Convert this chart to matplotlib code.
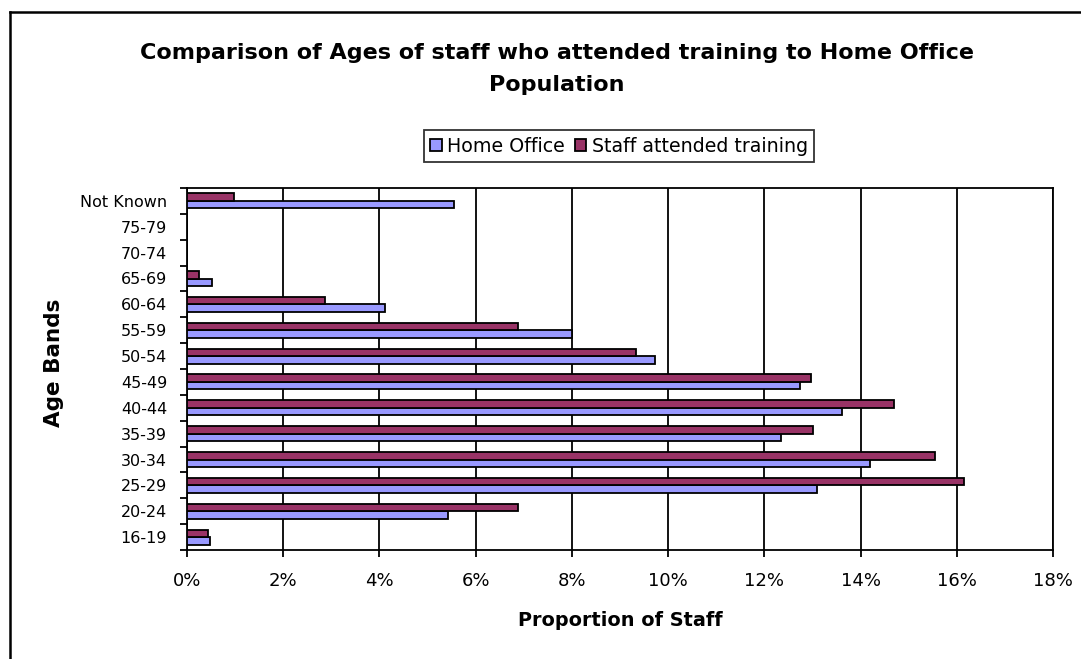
import matplotlib
matplotlib.use("Agg")
import matplotlib.pyplot as plt
import numpy as np
from matplotlib.lines import Line2D
from matplotlib.ticker import PercentFormatter, FixedLocator

plt.rcParams['font.family'] = ['DejaVu Sans']

categories = ["16-19", "20-24", "25-29", "30-34", "35-39", "40-44", "45-49",
              "50-54", "55-59", "60-64", "65-69", "70-74", "75-79", "Not Known"]
home_office = [0.48, 5.43, 13.09, 14.20, 12.35, 13.62, 12.75,
               9.73, 8.00, 4.12, 0.53, 0.0, 0.0, 5.56]
staff_training = [0.44, 6.87, 16.16, 15.55, 13.01, 14.69, 12.96,
                  9.33, 6.87, 2.86, 0.25, 0.0, 0.0, 0.98]
x_ticks = [0, 2, 4, 6, 8, 10, 12, 14, 16, 18]

W, H = 1081, 659
fig = plt.figure(figsize=(W / 100, H / 100), dpi=100)
fig.patch.set_facecolor("white")

ax = fig.add_axes([187 / W, 1 - 550 / H, (1053 - 187) / W, (550 - 188) / H])

y = np.arange(len(categories))
h = 0.29
ax.barh(y - h / 2, home_office, height=h, color="#9999FF", edgecolor="black",
        linewidth=1.3, label="Home Office", zorder=3)
ax.barh(y + h / 2, staff_training, height=h, color="#993366", edgecolor="black",
        linewidth=1.3, label="Staff attended training", zorder=3)

ax.set_xlim(0, 18)
ax.set_ylim(-0.5, len(categories) - 0.5)
ax.set_xticks(x_ticks)
ax.xaxis.set_major_formatter(PercentFormatter(decimals=0))
ax.grid(axis="x", color="black", linewidth=1.3, zorder=0)
ax.set_axisbelow(True)

ax.set_yticks(y)
ax.set_yticklabels(categories)
ax.yaxis.set_minor_locator(FixedLocator(np.arange(-0.5, len(categories), 1.0)))
ax.tick_params(axis="y", which="major", length=0, pad=14.4, labelsize=11.5)
ax.tick_params(axis="y", which="minor", length=5, width=1.3, direction="out")
ax.tick_params(axis="x", which="major", length=5, width=1.3, direction="out",
               pad=11, labelsize=13)
for s in ax.spines.values():
    s.set_linewidth(1.3)
    s.set_color("black")

ax.set_xlabel("Proportion of Staff", fontsize=13.9, fontweight="bold")
ax.xaxis.set_label_coords(620 / W, 1 - 620 / H, transform=fig.transFigure)
ax.xaxis.label.set_va("center")
ax.set_ylabel("Age Bands", fontsize=15.5, fontweight="bold")
ax.yaxis.set_label_coords(54 / W, 1 - 363 / H, transform=fig.transFigure)
ax.yaxis.label.set_va("center")

fig.text(557 / W, 1 - 69 / H,
         "Comparison of Ages of staff who attended training to Home Office\nPopulation",
         ha="center", va="center", fontsize=16, fontweight="bold", linespacing=1.8)

handles, labels = ax.get_legend_handles_labels()
leg = fig.legend(handles, labels, loc="center", bbox_to_anchor=(619 / W, 1 - 146 / H),
                 ncol=2, fontsize=13.7, frameon=True, fancybox=False,
                 handlelength=0.6, handleheight=0.6, handletextpad=0.3,
                 columnspacing=0.5, borderpad=0.35, borderaxespad=0)
leg.get_frame().set_edgecolor("black")
leg.get_frame().set_linewidth(1.3)

# outer chart frame (cropped on right and bottom)
fig.add_artist(Line2D([10 / W, 10 / W], [0, 1 - 12 / H], transform=fig.transFigure,
                      color="black", linewidth=1.8))
fig.add_artist(Line2D([10 / W, 1], [1 - 12 / H, 1 - 12 / H], transform=fig.transFigure,
                      color="black", linewidth=1.8))

fig.savefig("out.png", dpi=100)
